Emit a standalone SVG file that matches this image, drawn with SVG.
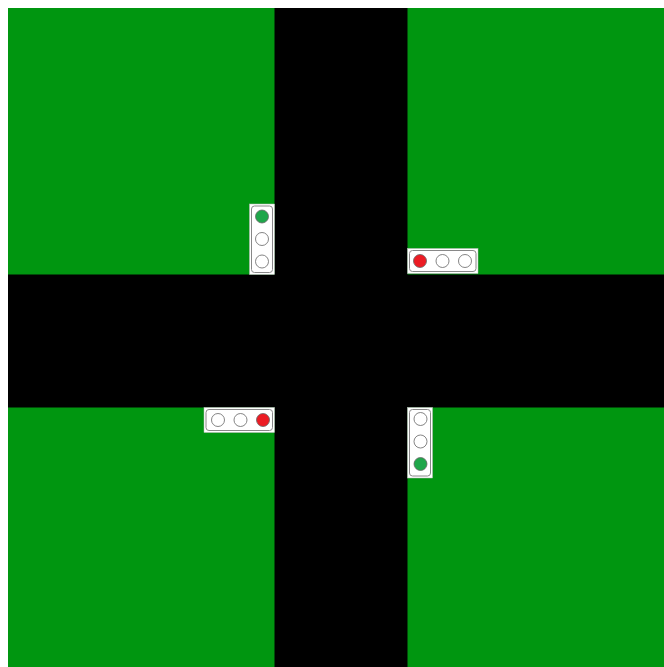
<svg xmlns="http://www.w3.org/2000/svg" width="664" height="667" viewBox="0 0 664 667">
<style>
.grass{fill:#009610}
.road{fill:#000}
.box{fill:#fff;stroke:#bbb;stroke-width:0.5}
.inner{fill:none;stroke:#888;stroke-width:1}
.lamp{fill:#fff;stroke:#666;stroke-width:0.8}
.red{fill:#ec1c24;stroke:#666;stroke-width:0.8}
.go{fill:#1fa64a;stroke:#666;stroke-width:0.8}
</style>
<rect x="0" y="0" width="664" height="667" fill="#fff"/>
<g id="ground">
<rect class="grass" x="8" y="8" width="656" height="659"/>
<rect class="road" x="274.5" y="8" width="133" height="659"/>
<rect class="road" x="8" y="274.5" width="656" height="133"/>
</g>
<g id="light-nw">
<rect class="box" x="249.5" y="204" width="25" height="70.5"/>
<rect class="inner" x="251.5" y="206" width="21" height="66.5" rx="3"/>
<circle class="go" cx="262" cy="216.5" r="6.5"/>
<circle class="lamp" cx="262" cy="239" r="6.5"/>
<circle class="lamp" cx="262" cy="261.5" r="6.5"/>
</g>
<g id="light-ne">
<rect class="box" x="407.5" y="248.5" width="70.5" height="25"/>
<rect class="inner" x="409.5" y="250.5" width="66.5" height="21" rx="3"/>
<circle class="red" cx="420" cy="261" r="6.5"/>
<circle class="lamp" cx="442.5" cy="261" r="6.5"/>
<circle class="lamp" cx="465" cy="261" r="6.5"/>
</g>
<g id="light-sw">
<rect class="box" x="204" y="407.5" width="70.5" height="25"/>
<rect class="inner" x="206" y="409.5" width="66.5" height="21" rx="3"/>
<circle class="lamp" cx="218" cy="420" r="6.5"/>
<circle class="lamp" cx="240.5" cy="420" r="6.5"/>
<circle class="red" cx="263" cy="420" r="6.5"/>
</g>
<g id="light-se">
<rect class="box" x="407.5" y="407.5" width="25" height="70.5"/>
<rect class="inner" x="409.5" y="409.5" width="21" height="66.5" rx="3"/>
<circle class="lamp" cx="420.5" cy="419" r="6.5"/>
<circle class="lamp" cx="420.5" cy="441.5" r="6.5"/>
<circle class="go" cx="420.5" cy="464" r="6.5"/>
</g>
<g id="connectors"></g>
</svg>
